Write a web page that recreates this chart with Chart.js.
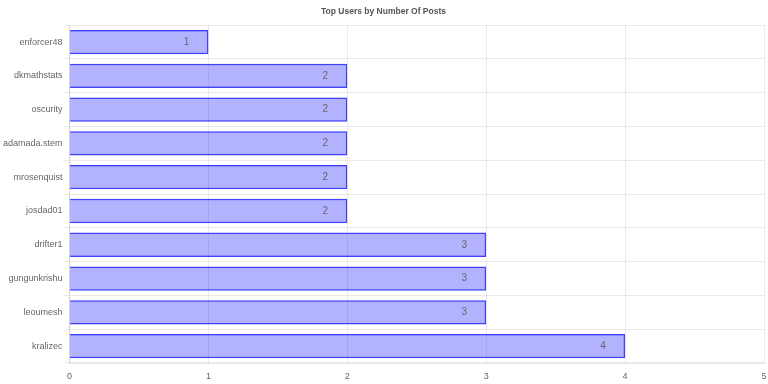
<!DOCTYPE html>
<html>
<head>
<meta charset="utf-8">
<script src="https://cdn.jsdelivr.net/npm/chart.js@4.4.0/dist/chart.umd.min.js"></script>
<style>
  html, body { margin: 0; padding: 0; background: #fff; }
  #wrap { width: 768px; height: 384px; }
</style>
</head>
<body>
<div id="wrap"><canvas id="postsChart"></canvas></div>
<script>
const users = ["enforcer48", "dkmathstats", "oscurity", "adamada.stem", "mrosenquist",
               "josdad01", "drifter1", "gungunkrishu", "leoumesh", "kralizec"];
const postCounts = [1, 2, 2, 2, 2, 2, 3, 3, 3, 4];
const xTicks = [0, 1, 2, 3, 4, 5];

// value label drawn inside the end of each bar
const barValueLabels = {
    id: 'barValueLabels',
    afterDatasetsDraw(chart) {
        const ctx = chart.ctx;
        const meta = chart.getDatasetMeta(0);
        ctx.save();
        ctx.font = '10px "Liberation Sans", Arial, sans-serif';
        ctx.fillStyle = '#666';
        ctx.textAlign = 'center';
        ctx.textBaseline = 'middle';
        meta.data.forEach((bar, i) => {
            ctx.fillText(postCounts[i], bar.x - 22, bar.y);
        });
        ctx.restore();
    }
};

Chart.defaults.font.family = '"Liberation Sans", Arial, sans-serif';
Chart.defaults.color = '#666';

new Chart(document.getElementById('postsChart'), {
    type: 'bar',
    data: {
        labels: users,
        datasets: [{
            label: "Posts",
            data: postCounts,
            backgroundColor: "rgba(0, 0, 255, 0.3)",
            borderColor: "rgba(0, 0, 255, 0.75)",
            borderWidth: 1.5
        }]
    },
    options: {
        indexAxis: 'y',
        responsive: true,
        maintainAspectRatio: false,
        animation: false,
        layout: { padding: { left: 3, right: 4, bottom: 0 } },
        plugins: {
            legend: { display: false },
            tooltip: { enabled: false },
            title: {
                display: true,
                text: "Top Users by Number Of Posts",
                font: { size: 8.5, weight: 'bold' },
                color: '#555',
                padding: { top: 7, bottom: 8 }
            }
        },
        scales: {
            x: {
                min: 0,
                max: 5,
                afterBuildTicks: axis => { axis.ticks = xTicks.map(v => ({ value: v })); },
                afterFit: axis => { axis.height = 21; axis.paddingRight = 0; },
                ticks: { font: { size: 9 }, padding: 8 },
                grid: { color: 'rgba(0,0,0,0.08)', drawTicks: false }
            },
            y: {
                ticks: { font: { size: 9 }, padding: 0 },
                grid: { color: 'rgba(0,0,0,0.08)', offset: true, tickLength: 7 }
            }
        }
    },
    plugins: [barValueLabels]
});
</script>
</body>
</html>
